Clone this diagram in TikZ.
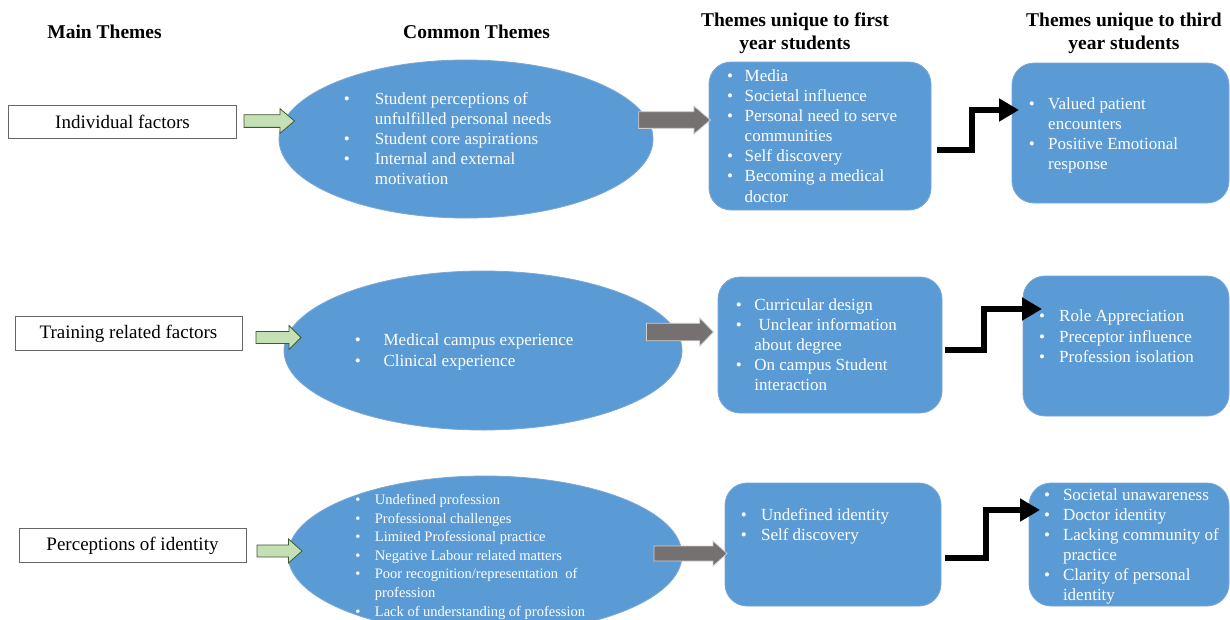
\documentclass[tikz,border=0pt]{standalone}
\usepackage{fontspec}
\setmainfont{Liberation Serif}
\usetikzlibrary{shapes.geometric,arrows.meta,calc}
\definecolor{themeblue}{HTML}{5B9BD5}
\definecolor{edgeblue}{HTML}{7BA7D6}
\definecolor{greenfill}{HTML}{C5E0B4}
\definecolor{greenedge}{HTML}{3D5A2E}
\definecolor{grayfill}{HTML}{767171}
\definecolor{grayedge}{HTML}{D0CECE}
\newcommand\bitem[2]{\makebox[#1pt][l]{•}#2}
\newcommand\bcont[2]{\hspace*{#1pt}#2}
\newcommand\firstrule{\rule{0pt}{12pt}}
\newcommand\blockarrow[6]{%
  \draw[#6] (#1) ++(0,{-#4/2}) -- ++(#2,0) -- ++(0,{-(#5-#4)/2})
    -- ++(#3,{#5/2}) -- ++({-#3},{#5/2}) -- ++(0,{-(#5-#4)/2})
    -- ++({-#2},0) -- cycle;}
\begin{document}
\begin{tikzpicture}[x=1pt,y=-1pt,
  hdr/.style={font=\bfseries\fontsize{19.5}{23}\selectfont, align=center, inner sep=0},
  mainbox/.style={draw=gray!80!black, fill=white, line width=0.8pt, inner sep=0,
    font=\fontsize{19}{23}\selectfont},
  blob/.style={ellipse, draw=edgeblue, fill=themeblue, line width=0.8pt, inner sep=0},
  rbox/.style={rectangle, rounded corners=22pt, draw=edgeblue, fill=themeblue,
    line width=0.8pt, inner sep=0},
  lst/.style={anchor=north west, inner sep=0, align=left, text=white,
    font=\fontsize{17}{20.15}\selectfont},
  lstsmall/.style={lst, font=\fontsize{14.5}{18.6}\selectfont},
  garrow/.style={draw=greenedge, fill=greenfill, line width=0.8pt},
  darrow/.style={draw=grayedge, fill=grayfill, line width=0.8pt},
  steparrow/.style={draw=black, line width=5.5pt, -{Triangle[length=20pt,width=22pt]}}
]
\clip (0,0) rectangle (1230,619);
\fill[white] (0,0) rectangle (1230,619);

% headers
\node[hdr] (hMain) at (104.5,32) {Main Themes};
\node[hdr] (hCommon) at (476.6,32) {Common Themes};
\node[hdr] (hFirst) at (795,33.5) {Themes unique to first\\year students};
\node[hdr] (hThird) at (1124,33.5) {Themes unique to third\\year students};

% main theme boxes
\node[mainbox, minimum width=227.7pt, minimum height=33.3pt] (m1) at (122.5,121.7) {Individual factors};
\node[mainbox, minimum width=227pt, minimum height=34pt] (m2) at (128.5,333.7) {Training related factors};
\node[mainbox, minimum width=227pt, minimum height=34.4pt] (m3) at (132.5,545.5) {Perceptions of identity};

% ellipses
\node[blob, minimum width=374pt, minimum height=158pt] (e1) at (466,139) {};
\node[blob, minimum width=398pt, minimum height=159pt] (e2) at (483,350.5) {};
\node[blob, minimum width=394pt, minimum height=158pt] (e3) at (485,555) {};

% rounded boxes
\node[rbox, minimum width=222pt, minimum height=148pt] (f1) at (820,136) {};
\node[rbox, minimum width=217pt, minimum height=140pt] (s1) at (1120.5,133) {};
\node[rbox, minimum width=224pt, minimum height=136pt] (f2) at (830,345) {};
\node[rbox, minimum width=206pt, minimum height=140pt] (s2) at (1126,346) {};
\node[rbox, minimum width=216pt, minimum height=123pt] (f3) at (833,544.5) {};
\node[rbox, minimum width=200pt, minimum height=123pt] (s3) at (1129,544.5) {};

% green block arrows
\coordinate (g1) at (244,121);
\coordinate (g2) at (256,337.5);
\coordinate (g3) at (257,551);
\blockarrow{g1}{36}{14.5}{12.7}{24.6}{garrow}
\blockarrow{g2}{33}{12}{12}{24}{garrow}
\blockarrow{g3}{31.5}{13.5}{12}{24}{garrow}

% gray block arrows
\coordinate (d1) at (638.7,120);
\coordinate (d2) at (646.5,332);
\coordinate (d3) at (654,553.5);
\blockarrow{d1}{55.2}{16.4}{16.7}{28}{darrow}
\blockarrow{d2}{53.3}{13.6}{17.5}{28}{darrow}
\blockarrow{d3}{59}{14}{15}{25}{darrow}

% black step arrows
\coordinate (k1s) at (937,150);
\coordinate (k1e) at (1019,110);
\coordinate (k2s) at (945,350);
\coordinate (k2e) at (1042,309);
\coordinate (k3s) at (945,558);
\coordinate (k3e) at (1040,510);
\draw[steparrow] (k1s) -- ++(35,0) |- (k1e);
\draw[steparrow] (k2s) -- ++(39,0) |- (k2e);
\draw[steparrow] (k3s) -- ++(41,0) |- (k3e);

% lists
\node[lst] (t1) at (343.6,92) {\firstrule\bitem{31}{Student perceptions of}\\\bcont{31}{unfulfilled personal needs}\\\bitem{31}{Student core aspirations}\\\bitem{31}{Internal and external}\\\bcont{31}{motivation}};
\node[lst] (t1a) at (727,69) {\firstrule\bitem{17.5}{Media}\\\bitem{17.5}{Societal influence}\\\bitem{17.5}{Personal need to serve}\\\bcont{17.5}{communities}\\\bitem{17.5}{Self discovery}\\\bitem{17.5}{Becoming a medical}\\\bcont{17.5}{doctor}};
\node[lst] (t1b) at (1028.7,97) {\firstrule\bitem{19.3}{Valued patient}\\\bcont{19.3}{encounters}\\\bitem{19.3}{Positive Emotional}\\\bcont{19.3}{response}};

\node[lst] (t2) at (354.7,333.7) {\firstrule\bitem{28.7}{Medical campus experience}\\\bitem{28.7}{Clinical experience}};
\node[lst] (t2a) at (735.7,298) {\firstrule\bitem{18.5}{Curricular design}\\\bitem{18.5}{\ Unclear information}\\\bcont{18.5}{about degree}\\\bitem{18.5}{On campus Student}\\\bcont{18.5}{interaction}};
\node[lst] (t2b) at (1039,309.7) {\firstrule\bitem{20}{Role Appreciation}\\\bitem{20}{Preceptor influence}\\\bitem{20}{Profession isolation}};

\node[lstsmall] (t3) at (355.2,492.3) {\firstrule\bitem{19.5}{Undefined profession}\\\bitem{19.5}{Professional challenges}\\\bitem{19.5}{Limited Professional practice}\\\bitem{19.5}{Negative Labour related matters}\\\bitem{19.5}{Poor recognition/representation\ \ of}\\\bcont{19.5}{profession}\\\bitem{19.5}{Lack of understanding of profession}};
\node[lst] (t3a) at (740.7,508) {\firstrule\bitem{20.2}{Undefined identity}\\\bitem{20.2}{Self discovery}};
\node[lst] (t3b) at (1044,488) {\firstrule\bitem{18.8}{Societal unawareness}\\\bitem{18.8}{Doctor identity}\\\bitem{18.8}{Lacking community of}\\\bcont{18.8}{practice}\\\bitem{18.8}{Clarity of personal}\\\bcont{18.8}{identity}};
\end{tikzpicture}
\end{document}
